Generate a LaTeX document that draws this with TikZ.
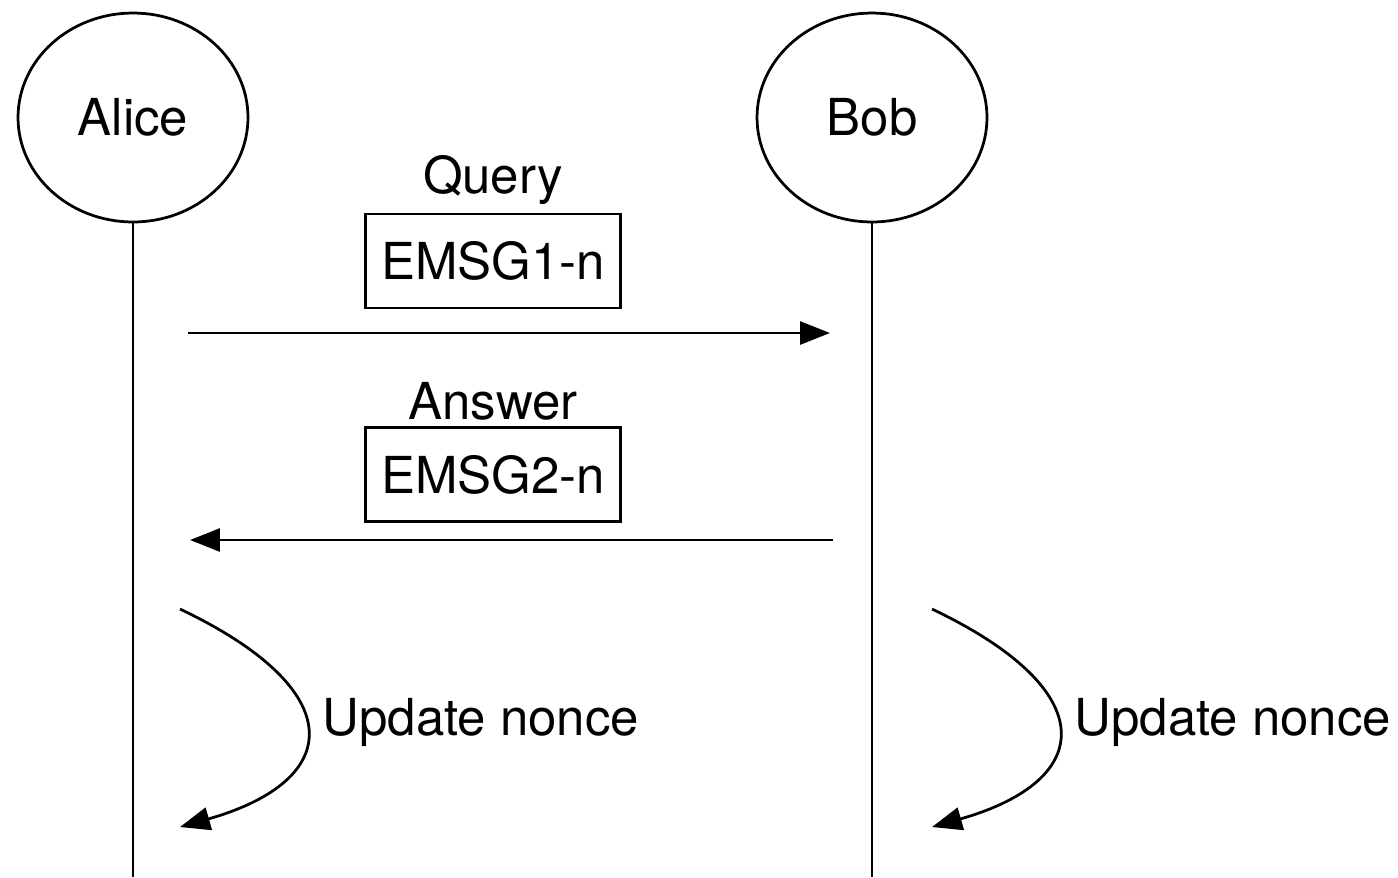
\documentclass[tikz,border=0pt]{standalone}
\usepackage{fontspec}
\setmainfont{TeX Gyre Heros}
\usetikzlibrary{shapes.geometric, arrows.meta}

\begin{document}
\begin{tikzpicture}[x=0.02cm, y=-0.02cm, line width=0.055cm,
    font=\fontsize{29}{34}\selectfont,
    party/.style={draw, ellipse, minimum width=4.6cm, minimum height=4.18cm, inner sep=0pt},
    msgbox/.style={draw, minimum width=5.1cm, minimum height=1.88cm, inner sep=0pt},
    >={Triangle[length=0.6cm, width=0.46cm]}]
      \useasboundingbox (0, 0) rectangle (1398, 877);

      \node[party](Alice) at (133, 117.5) {Alice};
      \node[party](Bob) at (872, 117.5) {Bob};
      \coordinate(AliceEnd) at (133, 877);
      \coordinate(BobEnd) at (872, 877);

      \node(Query) at (493, 180) {Query};
      \node[msgbox](Msg1) at (493, 261) {EMSG1-n};
      \coordinate(Msg1Start) at (188, 333);
      \coordinate(Msg1End) at (830, 333);

      \node(Answer) at (493, 401) {Answer};
      \node[msgbox](Msg2) at (493, 474.5) {EMSG2-n};
      \coordinate(Msg2Start) at (833, 540);
      \coordinate(Msg2End) at (190, 540);

      \coordinate(AliceUpd1) at (180, 609);
      \coordinate(AliceUpd2) at (180, 827);
      \node[anchor=west, inner sep=0pt](AliceNonce) at (321, 722) {Update nonce};
      \coordinate(BobUpd1) at (932, 609);
      \coordinate(BobUpd2) at (932, 827);
      \node[anchor=west, inner sep=0pt](BobNonce) at (1073, 722) {Update nonce};

      \draw (Alice) -- (AliceEnd) (Bob) -- (BobEnd);
      \draw[->] (Msg1Start) -- (Msg1End);
      \draw[->] (Msg2Start) -- (Msg2End);
      \draw[->] (AliceUpd1) .. controls (350, 690) and (345, 780) .. (AliceUpd2);
      \draw[->] (BobUpd1) .. controls (1102, 690) and (1097, 780) .. (BobUpd2);
    \end{tikzpicture}
\end{document}
